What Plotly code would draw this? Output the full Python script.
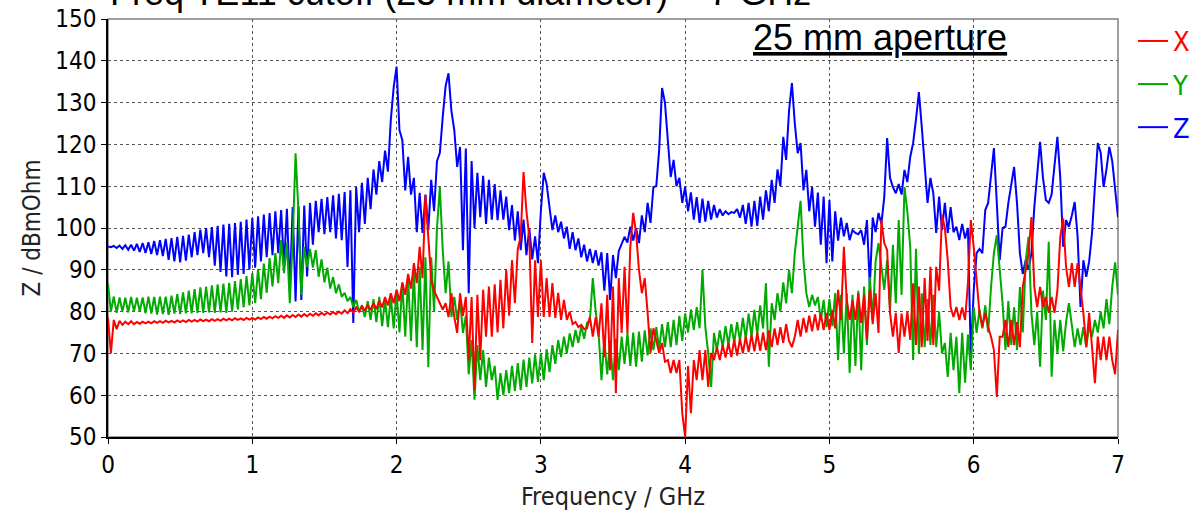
import plotly.graph_objects as go

# Frequency sampling grid (GHz): 0.00 .. 7.00 in 0.02 steps
f_start, f_step, n_pts = 0.0, 0.02, 351
freq = [round(f_start + i * f_step, 2) for i in range(n_pts)]

# Z (blue) impedance, dBmOhm, one row = 0.2 GHz
z_vals = [
    95.6, 95.4, 95.7, 95.2, 95.8, 95.0, 95.9, 94.8, 96.0, 94.6,
    96.2, 94.3, 96.4, 94.0, 96.6, 93.8, 96.9, 93.5, 97.1, 93.3,
    97.4, 92.4, 97.6, 92.0, 97.9, 91.8, 98.1, 92.2, 98.4, 93.0,
    99.0, 93.5, 99.6, 94.0, 100.0, 93.0, 100.2, 91.0, 100.5, 89.5,
    100.8, 88.4, 101.0, 88.2, 101.2, 88.8, 101.5, 89.0, 102.0, 90.0,
    102.4, 90.5, 102.8, 92.0, 103.2, 93.0, 103.6, 93.5, 104.0, 94.0,
    104.3, 91.0, 104.6, 85.2, 105.0, 82.4, 105.2, 82.8, 105.4, 88.4,
    106.0, 96.0, 106.5, 99.0, 107.0, 98.5, 107.4, 99.0, 107.8, 97.5,
    108.2, 97.1, 108.6, 90.7, 109.0, 77.3, 109.8, 99.0, 110.8, 101.0,
    112.0, 104.5, 114.0, 108.0, 116.0, 111.0, 118.5, 113.5, 125.8, 133.7,
    138.6, 123.4, 121.0, 109.0, 117.0, 108.0, 112.0, 99.0, 108.4, 98.8,
    108.0, 99.5, 111.5, 104.0, 116.0, 118.0, 126.6, 134.0, 137.0, 128.0,
    123.4, 114.6, 119.4, 94.7, 119.0, 84.4, 116.0, 100.0, 113.2, 102.6,
    112.5, 101.0, 111.5, 102.0, 110.5, 101.9, 109.0, 102.0, 107.5, 99.5,
    105.5, 97.0, 104.0, 94.7, 102.0, 93.5, 100.0, 92.5, 98.0, 91.6,
    104.0, 113.2, 110.5, 104.3, 99.5, 103.0, 99.0, 101.5, 97.5, 100.3,
    95.0, 99.0, 94.7, 97.5, 93.0, 96.0, 92.0, 95.0, 91.6, 94.7,
    91.0, 94.2, 85.0, 94.0, 82.8, 93.5, 88.0, 94.5, 96.0, 97.9,
    96.5, 100.3, 97.0, 100.0, 96.4, 103.0, 99.0, 106.0, 101.2, 109.8,
    110.0, 118.7, 133.5, 130.0, 121.0, 112.2, 116.3, 110.0, 112.0, 106.0,
    109.8, 104.0, 108.5, 102.0, 107.4, 101.2, 107.0, 101.5, 106.5, 102.0,
    105.5, 102.5, 104.5, 103.0, 104.0, 103.3, 103.8, 103.6, 104.5, 102.5,
    105.5, 101.0, 106.0, 100.3, 106.5, 100.5, 107.5, 102.0, 109.0, 104.0,
    111.5, 106.0, 114.0, 110.0, 121.8, 116.3, 128.0, 134.7, 125.0, 117.9,
    120.3, 109.0, 113.9, 104.0, 109.8, 100.3, 108.5, 96.0, 107.5, 91.6,
    106.7, 92.0, 104.0, 97.0, 102.5, 98.0, 101.2, 97.1, 99.5, 98.8,
    98.5, 99.5, 96.0, 101.9, 85.9, 102.5, 99.0, 103.6, 101.0, 107.4,
    121.5, 112.0, 109.8, 108.3, 110.5, 108.0, 113.9, 111.0, 117.0, 120.3,
    126.0, 132.5, 124.2, 115.5, 106.0, 112.0, 108.3, 98.8, 107.5, 99.5,
    106.0, 98.8, 105.0, 99.0, 100.3, 97.1, 101.0, 97.5, 100.0, 69.1,
    85.0, 94.0, 95.0, 94.0, 104.3, 106.0, 112.0, 119.1, 106.0, 92.3,
    100.0, 100.3, 106.0, 110.0, 114.6, 106.0, 94.0, 89.0, 92.3, 90.0,
    94.0, 105.0, 113.0, 120.6, 112.0, 106.7, 106.0, 108.0, 115.0, 121.8,
    112.0, 95.5, 101.9, 100.3, 103.0, 106.2, 98.0, 81.1, 92.3, 88.3,
    92.0, 98.8, 110.0, 120.3, 118.0, 109.8, 114.0, 119.4, 116.0, 109.8,
    102.6,
]

# Y (green) impedance, dBmOhm
y_vals = [
    86.8, 80.0, 83.6, 79.7, 83.4, 80.0, 83.3, 79.8, 83.5, 80.0,
    83.3, 80.0, 83.4, 79.6, 83.6, 79.5, 83.5, 79.3, 83.6, 79.4,
    83.6, 79.2, 83.8, 79.5, 84.2, 79.4, 84.6, 79.6, 85.0, 79.6,
    85.4, 79.7, 85.8, 79.7, 86.0, 79.8, 86.3, 79.7, 86.5, 79.8,
    86.7, 79.7, 86.9, 80.0, 87.3, 80.5, 87.8, 81.0, 88.5, 81.5,
    89.2, 82.0, 90.2, 83.0, 91.5, 84.5, 92.8, 86.0, 94.0, 86.8,
    97.1, 89.2, 96.5, 82.0, 97.0, 117.9, 104.0, 84.0, 95.5, 90.7,
    95.0, 90.5, 94.7, 88.3, 92.5, 87.0, 90.5, 85.5, 88.3, 84.4,
    86.5, 83.5, 84.5, 82.5, 83.5, 81.1, 82.8, 80.0, 81.5, 78.7,
    82.5, 78.0, 83.0, 77.5, 83.5, 76.5, 83.0, 76.3, 83.5, 76.0,
    85.0, 75.0, 86.8, 74.0, 88.0, 73.0, 89.5, 71.5, 90.7, 70.8,
    93.0, 66.7, 93.0, 80.0, 100.0, 109.8, 94.7, 84.4, 92.0, 78.7,
    83.5, 78.0, 82.8, 74.9, 79.0, 65.0, 73.2, 58.9, 72.0, 63.6,
    70.8, 62.0, 69.0, 63.6, 67.0, 58.9, 65.3, 60.0, 66.0, 60.5,
    67.0, 61.0, 67.7, 61.2, 68.5, 62.0, 69.0, 62.8, 69.8, 63.2,
    70.1, 63.6, 71.0, 65.5, 72.0, 67.5, 73.2, 69.1, 74.0, 70.0,
    74.8, 71.5, 75.6, 72.5, 76.5, 73.5, 77.3, 78.0, 88.0, 80.0,
    74.9, 63.6, 73.2, 65.0, 73.0, 63.6, 73.5, 66.0, 74.0, 67.5,
    74.9, 67.0, 75.0, 66.8, 75.2, 68.0, 75.5, 69.5, 76.0, 70.8,
    76.3, 71.0, 77.0, 71.5, 77.5, 71.5, 78.0, 72.0, 79.0, 73.0,
    79.5, 75.0, 80.5, 75.6, 81.1, 76.0, 90.0, 76.3, 70.0, 62.0,
    74.9, 70.8, 75.5, 71.5, 76.5, 72.0, 77.0, 72.5, 77.5, 73.0,
    78.5, 73.5, 79.5, 74.0, 80.4, 74.5, 81.5, 76.0, 86.8, 66.8,
    82.0, 78.0, 84.4, 80.0, 87.0, 82.0, 90.0, 84.4, 94.0, 100.0,
    106.5, 92.3, 84.4, 81.1, 84.0, 81.5, 83.5, 78.0, 82.8, 76.3,
    83.0, 76.5, 84.4, 68.4, 84.0, 70.0, 84.4, 65.3, 84.0, 67.0,
    85.0, 66.0, 86.0, 72.0, 88.3, 78.0, 92.0, 96.4, 90.0, 85.2,
    92.3, 80.4, 96.0, 82.0, 101.9, 84.0, 109.8, 104.0, 95.5, 68.4,
    95.0, 70.0, 84.4, 71.5, 83.0, 72.0, 84.0, 71.5, 80.0, 70.0,
    72.5, 64.4, 74.9, 66.0, 74.0, 60.5, 74.9, 63.0, 74.5, 66.0,
    81.1, 74.9, 80.5, 76.0, 81.5, 75.0, 85.9, 94.0, 98.3, 90.0,
    82.0, 70.8, 82.5, 72.0, 81.0, 70.8, 85.9, 75.0, 92.0, 97.9,
    79.7, 72.0, 80.0, 66.8, 85.0, 78.0, 96.7, 64.4, 78.0, 70.1,
    78.0, 70.5, 77.5, 82.0, 76.3, 71.5, 76.0, 72.0, 76.3, 71.5,
    76.5, 74.0, 78.0, 75.0, 80.0, 76.0, 83.0, 77.0, 85.9, 91.8,
    84.0,
]

# X (red) impedance, dBmOhm
x_vals = [
    78.5, 70.0, 78.0, 75.8, 77.8, 76.8, 77.6, 77.0, 77.7, 77.0,
    77.5, 77.1, 77.6, 77.2, 77.6, 77.2, 77.7, 77.3, 77.7, 77.3,
    77.8, 77.4, 77.8, 77.4, 77.9, 77.5, 77.9, 77.5, 78.0, 77.6,
    78.0, 77.6, 78.1, 77.7, 78.1, 77.7, 78.2, 77.8, 78.2, 77.8,
    78.3, 77.9, 78.3, 77.9, 78.4, 78.0, 78.4, 78.0, 78.5, 78.1,
    78.5, 78.1, 78.6, 78.2, 78.7, 78.3, 78.8, 78.4, 78.9, 78.5,
    79.0, 78.5, 79.1, 78.6, 79.2, 78.7, 79.3, 78.8, 79.4, 78.9,
    79.5, 79.0, 79.6, 79.1, 79.7, 79.2, 79.8, 79.3, 79.9, 79.4,
    80.0, 79.5, 80.3, 79.6, 80.6, 79.8, 81.0, 80.0, 81.3, 80.2,
    81.6, 80.4, 82.0, 80.6, 82.6, 81.0, 83.5, 81.5, 84.4, 82.0,
    85.2, 82.5, 87.0, 84.0, 89.0, 85.5, 91.6, 86.8, 95.5, 88.0,
    107.9, 98.0, 87.6, 85.0, 83.5, 82.0, 80.5, 82.0, 78.7, 84.4,
    78.7, 74.9, 84.4, 79.0, 83.5, 68.4, 83.5, 61.2, 84.0, 68.4,
    85.2, 74.0, 86.0, 74.0, 86.5, 75.0, 87.6, 76.0, 90.0, 79.0,
    92.3, 82.0, 95.0, 97.9, 113.4, 104.0, 97.9, 72.5, 92.3, 78.7,
    92.3, 78.7, 88.0, 78.7, 86.8, 78.5, 84.5, 78.0, 82.8, 78.0,
    80.0, 77.0, 77.5, 76.3, 76.8, 75.8, 76.0, 78.7, 74.0, 78.7,
    74.0, 82.0, 69.1, 84.0, 66.0, 86.0, 60.5, 88.0, 74.9, 90.7,
    74.9, 95.5, 103.6, 98.8, 90.0, 84.4, 88.0, 79.7, 70.1, 76.0,
    73.2, 70.1, 72.5, 68.0, 68.4, 65.3, 68.4, 65.3, 68.4, 55.7,
    50.0, 67.0, 55.7, 68.4, 63.6, 70.8, 63.6, 70.8, 62.0, 70.1,
    68.4, 71.5, 68.4, 72.0, 69.0, 72.5, 69.1, 73.2, 69.5, 73.5,
    70.0, 74.0, 70.3, 74.5, 70.5, 74.9, 70.6, 75.0, 70.8, 75.5,
    71.5, 76.0, 72.0, 76.3, 72.5, 77.0, 73.0, 71.5, 74.0, 78.0,
    74.0, 78.5, 75.0, 79.0, 75.3, 79.3, 75.5, 79.5, 75.6, 79.7,
    75.6, 80.4, 76.0, 85.2, 78.0, 95.5, 82.8, 78.0, 82.8, 78.0,
    84.4, 77.3, 84.0, 73.2, 85.2, 77.0, 84.4, 74.9, 101.9, 96.4,
    94.7, 79.7, 74.0, 79.7, 70.1, 79.5, 74.0, 80.0, 73.2, 86.8,
    72.0, 86.0, 71.5, 88.0, 73.0, 90.7, 72.0, 90.7, 85.0, 103.1,
    100.0, 92.3, 81.1, 78.7, 81.1, 78.0, 81.0, 78.0, 86.8, 101.9,
    95.5, 86.8, 79.7, 76.3, 79.7, 76.3, 74.0, 70.8, 59.6, 74.0,
    74.0, 78.0, 71.5, 78.0, 72.0, 77.5, 71.5, 85.9, 90.0, 94.0,
    102.6, 85.9, 81.1, 85.9, 81.1, 83.5, 79.7, 83.5, 79.7, 85.0,
    97.9, 102.3, 90.7, 85.9, 91.6, 85.9, 91.6, 86.0, 79.7, 71.5,
    79.7, 71.5, 62.9, 74.0, 68.4, 74.0, 68.4, 74.0, 68.4, 65.0,
    75.6,
]

x_ticks = [0, 1, 2, 3, 4, 5, 6, 7]
y_ticks = [50, 60, 70, 80, 90, 100, 110, 120, 130, 140, 150]

# drawn in this order (Z first, X on top); legend lists X, Y, Z
series = [
    ("Z", z_vals, "#0000FF", 3),
    ("Y", y_vals, "#00AA00", 2),
    ("X", x_vals, "#FF0000", 1),
]

font_fam = "DejaVu Sans Condensed, DejaVu Sans, sans-serif"
tick_font = dict(family=font_fam, size=24, color="#000000")

fig = go.Figure()
for name, vals, col, rank in series:
    fig.add_trace(go.Scatter(
        x=freq, y=vals, mode="lines", name=f"<span style='color:{col}'>{name}</span>",
        line=dict(color=col, width=2), legendgroup=name, legendrank=rank, hoverinfo="skip",
    ))

fig.update_layout(
    width=1197, height=518,
    margin=dict(l=108, r=79, t=19, b=81, autoexpand=False),
    paper_bgcolor="white", plot_bgcolor="white",
    showlegend=True,
    legend=dict(
        x=1.0149, xanchor="left", y=1.005, yanchor="top",
        traceorder="grouped", tracegroupgap=5,
        font=dict(family=font_fam, size=27),
        bgcolor="rgba(0,0,0,0)", borderwidth=0,
    ),
    xaxis=dict(
        range=[0, 7], tickvals=x_ticks, ticktext=[str(v) for v in x_ticks],
        showgrid=True, gridcolor="#555555", griddash="3px,3px", gridwidth=1,
        showline=True, linecolor="#000000", linewidth=1.5,
        ticks="outside", ticklen=5, tickcolor="#000000",
        tickfont=tick_font, zeroline=False,
        title=dict(text="Frequency / GHz", font=dict(family=font_fam, size=25, color="#222222"), standoff=10),
    ),
    yaxis=dict(
        range=[50, 150], tickvals=y_ticks, ticktext=[str(v) for v in y_ticks],
        showgrid=True, gridcolor="#555555", griddash="3px,3px", gridwidth=1,
        showline=True, linecolor="#000000", linewidth=1.5,
        ticks="outside", ticklen=5, tickcolor="#000000",
        tickfont=tick_font, zeroline=False,
        title=dict(text="Z / dBmOhm", font=dict(family=font_fam, size=24, color="#222222"), standoff=8),
    ),
    shapes=[dict(type="rect", xref="paper", yref="paper", x0=0, x1=1, y0=0, y1=1,
                 line=dict(color="#808080", width=1.5), layer="below")],
    annotations=[
        dict(text="<u>25 mm aperture</u>", xref="paper", yref="paper", x=0.764, y=1.0,
             xanchor="center", yanchor="top", yshift=4, showarrow=False,
             font=dict(family="Liberation Sans, Arial, sans-serif", size=36, color="#000000")),
        dict(text="Freq TE11 cutoff (25 mm diameter) ~ 7 GHz", xref="paper", yref="paper", x=0.0, y=1.0,
             xanchor="left", yanchor="bottom", yshift=4, showarrow=False,
             font=dict(family="Liberation Sans, Arial, sans-serif", size=36, color="#000000")),
    ],
)

fig.write_html("out.html", config={"displayModeBar": False})
